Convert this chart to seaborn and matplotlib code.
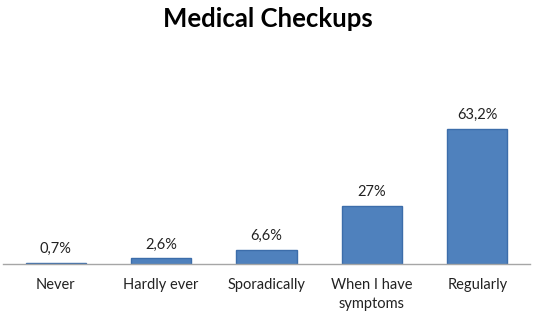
import matplotlib
matplotlib.use("Agg")
import matplotlib.pyplot as plt
import seaborn as sns
import pandas as pd

categories = ["Never", "Hardly ever", "Sporadically", "When I have\nsymptoms", "Regularly"]
values = [0.7, 2.6, 6.6, 27.0, 63.2]
value_labels = ["0,7%", "2,6%", "6,6%", "27%", "63,2%"]
title = "Medical Checkups"

sns.set_theme(style="white")
plt.rcParams['font.family'] = ['Lato', 'DejaVu Sans']

df = pd.DataFrame({"cat": categories, "val": values})

fig = plt.figure(figsize=(5.36, 3.18), dpi=100)
ax = fig.add_axes([3/536, 1 - 264/318, 527/536, 70*2.14/318])
sns.barplot(data=df, x="cat", y="val", ax=ax, color="#4F81BD",
            edgecolor="#3C6DAA", linewidth=1.0, width=0.57, saturation=1)
ax.set_ylim(0, 70)
ax.set_xlim(-0.5, 4.5)
for s in ["top", "right", "left"]:
    ax.spines[s].set_visible(False)
ax.spines["bottom"].set_color("#A6A6A6")
ax.spines["bottom"].set_linewidth(1.0)
ax.set_yticks([])
ax.set_xlabel("")
ax.set_ylabel("")
ax.tick_params(axis="x", length=0, pad=10, labelsize=10.5, colors="#222222")
for lbl in ax.get_xticklabels():
    lbl.set_linespacing(1.45)
for i, (v, lab) in enumerate(zip(values, value_labels)):
    ax.annotate(lab, (i, v), xytext=(0, 5), textcoords="offset points",
                ha="center", va="bottom", fontsize=10.5, color="#222222")
fig.text(0.5, 1 - 19/318, title, ha="center", va="center",
         fontsize=18.5, fontweight="bold", color="black")
fig.savefig("out.png", dpi=100)
